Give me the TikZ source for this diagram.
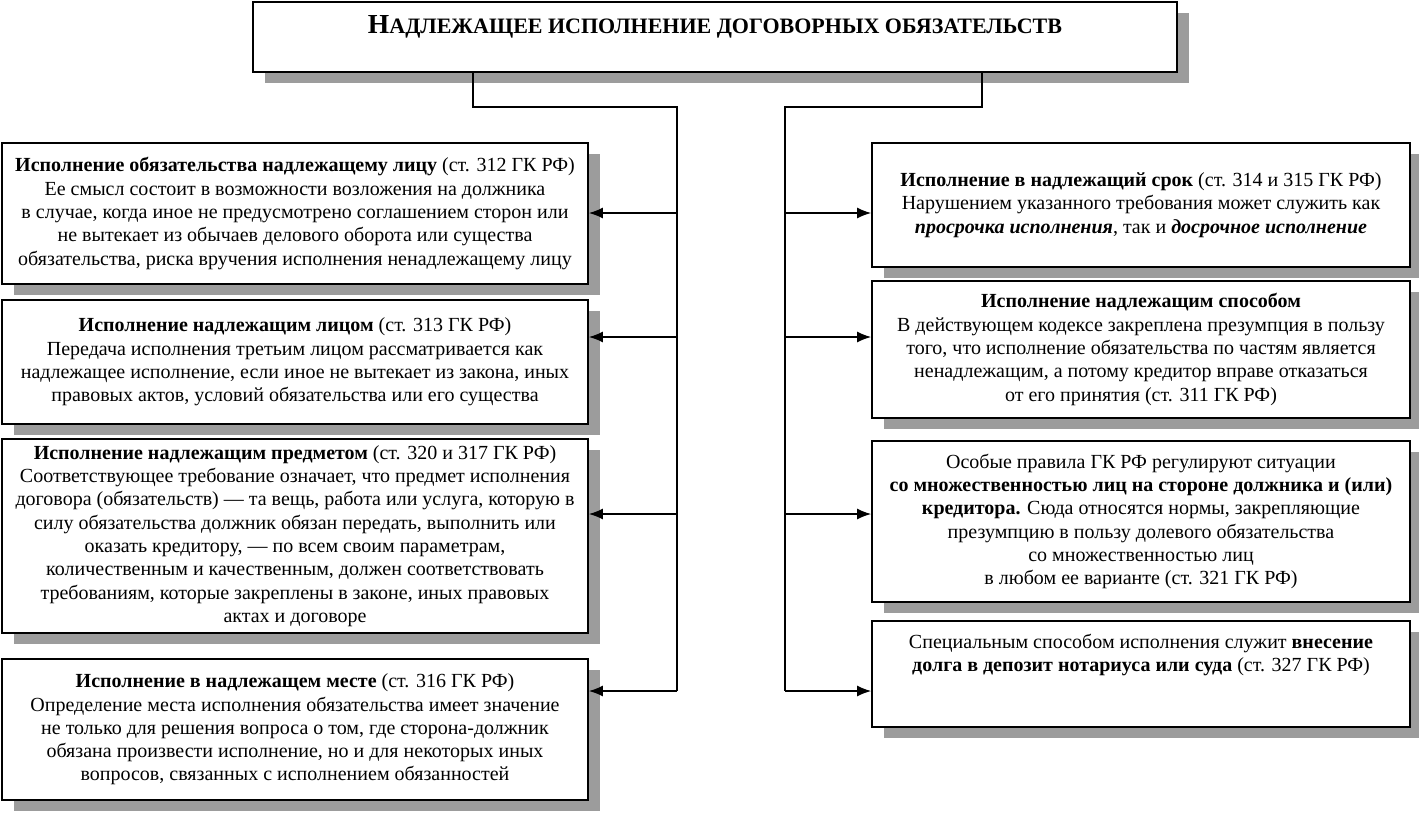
\documentclass[tikz,border=0pt]{standalone}
\usepackage{fontspec}
\setmainfont{Liberation Serif}
\usetikzlibrary{arrows.meta,shadows}
\definecolor{shade}{HTML}{9C9C9C}
\tikzset{dg/.style={x=1pt,y=-1pt,line width=1.6pt,font=\fontsize{20}{23.3}\selectfont},
  box/.style={draw,fill=white,inner sep=0pt,drop shadow={shadow xshift=12pt,shadow yshift=-11pt,fill=shade,opacity=1}},
  arr/.style={-{Latex[length=14pt,width=11pt]}}}

\begin{document}
\begin{tikzpicture}[dg]
  \useasboundingbox (0,0) rectangle (1419,815);
  \node[box,minimum width=924,minimum height=70,text height=15pt,text depth=23pt] (title) at (715,37){\bfseries{\fontsize{27.5}{27.5}\selectfont Н}{\fontsize{22}{22}\selectfont АДЛЕЖАЩЕЕ ИСПОЛНЕНИЕ ДОГОВОРНЫХ ОБЯЗАТЕЛЬСТВ}};
  % left column
  \node[box,minimum width=586,minimum height=141,align=center] (l1) at (295,213.5){\textbf{Исполнение обязательства надлежащему лицу} (ст. 312 ГК РФ)\\Ее смысл состоит в возможности возложения на должника\\в случае, когда иное не предусмотрено соглашением сторон или\\не вытекает из обычаев делового оборота или существа\\обязательства, риска вручения исполнения ненадлежащему лицу};
  \node[box,minimum width=586,minimum height=124,align=center] (l2) at (295,362){\textbf{Исполнение надлежащим лицом} (ст. 313 ГК РФ)\\Передача исполнения третьим лицом рассматривается как\\надлежащее исполнение, если иное не вытекает из закона, иных\\правовых актов, условий обязательства или его существа};
  \node[box,minimum width=586,minimum height=194,align=center] (l3) at (295,536){\textbf{Исполнение надлежащим предметом} (ст. 320 и 317 ГК РФ)\\Соответствующее требование означает, что предмет исполнения\\договора (обязательств) — та вещь, работа или услуга, которую в\\силу обязательства должник обязан передать, выполнить или\\оказать кредитору, — по всем своим параметрам,\\количественным и качественным, должен соответствовать\\требованиям, которые закреплены в законе, иных правовых\\актах и договоре};
  \node[box,minimum width=586,minimum height=141,align=center] (l4) at (295,729.5){\textbf{Исполнение в надлежащем месте} (ст. 316 ГК РФ)\\Определение места исполнения обязательства имеет значение\\не только для решения вопроса о том, где сторона-должник\\обязана произвести исполнение, но и для некоторых иных\\вопросов, связанных с исполнением обязанностей};
  % right column
  \node[box,minimum width=538,minimum height=124,align=center] (r1) at (1141,205){\textbf{Исполнение в надлежащий срок} (ст. 314 и 315 ГК РФ)\\Нарушением указанного требования может служить как\\\textbf{\textit{просрочка исполнения}}, так и \textbf{\textit{досрочное исполнение}}};
  \node[box,minimum width=538,minimum height=137,align=center] (r2) at (1141,349.5){\textbf{Исполнение надлежащим способом}\\В действующем кодексе закреплена презумпция в пользу\\того, что исполнение обязательства по частям является\\ненадлежащим, а потому кредитор вправе отказаться\\от его принятия (ст. 311 ГК РФ)};
  \node[box,minimum width=538,minimum height=161,align=center] (r3) at (1141,521.5){Особые правила ГК РФ регулируют ситуации\\\textbf{со множественностью лиц на стороне должника и (или)}\\\textbf{кредитора.} Сюда относятся нормы, закрепляющие\\презумпцию в пользу долевого обязательства\\со множественностью лиц\\в любом ее варианте (ст. 321 ГК РФ)};
  \node[box,minimum width=538,minimum height=106] (r4) at (1141,674){};
  \node[anchor=north,align=center,inner sep=0pt] (r4t) at ([yshift=-13pt]r4.north){Специальным способом исполнения служит \textbf{внесение}\\\textbf{долга в депозит нотариуса или суда} (ст. 327 ГК РФ)};
  % buses
  \coordinate (ta) at (473,107);\coordinate (lb) at (677,107);\coordinate (lz) at (677,691);
  \coordinate (tb) at (982,107);\coordinate (rb) at (785,107);\coordinate (rz) at (785,691);
  \draw (title.south -| ta)--(ta)--(lb)--(lz);
  \draw (title.south -| tb)--(tb)--(rb)--(rz);
  \foreach \n/\y in {1/213,2/337,3/514,4/691}{\coordinate (lt\n) at (677,\y);\coordinate (rt\n) at (785,\y);
    \draw[arr] (lt\n)--(lt\n -| l\n.east);\draw[arr] (rt\n)--(rt\n -| r\n.west);}
\end{tikzpicture}
\end{document}
